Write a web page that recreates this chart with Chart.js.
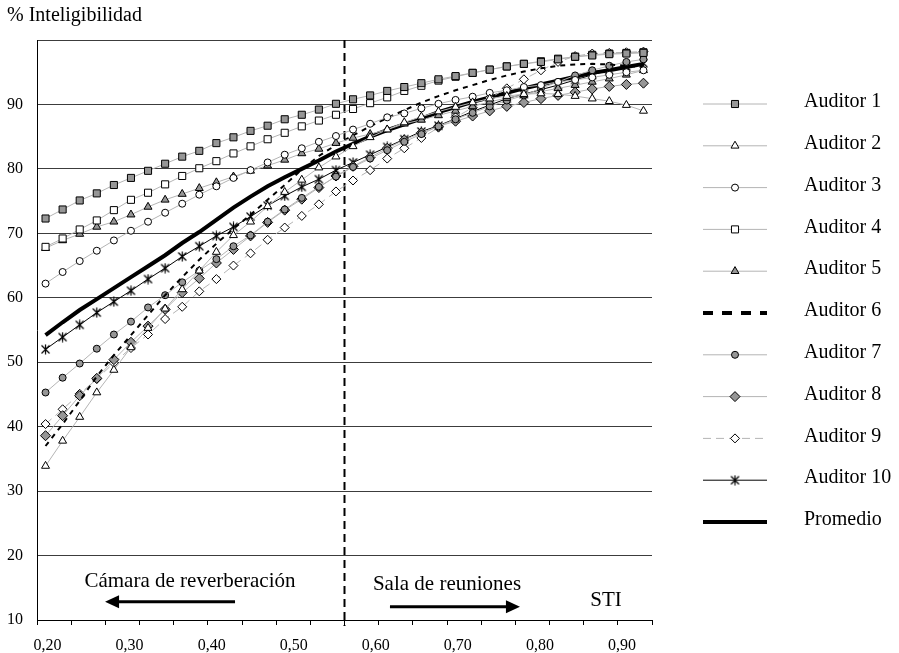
<!DOCTYPE html>
<html>
<head>
<meta charset="utf-8">
<script src="https://cdn.jsdelivr.net/npm/chart.js@4"></script>
<style>
  html, body { margin: 0; padding: 0; background: #fff; }
  #wrap { width: 899px; height: 653px; }
</style>
</head>
<body>
<div id="wrap"><canvas id="chart" width="899" height="653"></canvas></div>
<script>
// STI value of each measured point (category axis)
const sti = [0.196, 0.217, 0.238, 0.259, 0.280, 0.300, 0.321, 0.342, 0.363, 0.384,
  0.405, 0.426, 0.447, 0.468, 0.489, 0.510, 0.530, 0.551, 0.572, 0.593,
  0.614, 0.635, 0.656, 0.677, 0.698, 0.719, 0.740, 0.760, 0.781, 0.802,
  0.823, 0.844, 0.865, 0.886, 0.907, 0.928];
// tick labels of the STI axis
const xTickVals = [0.20, 0.30, 0.40, 0.50, 0.60, 0.70, 0.80, 0.90];
// % intelligibility per listener
const aud1 = [72.3, 73.7, 75.1, 76.2, 77.5, 78.6, 79.7, 80.8, 81.9, 82.8, 84.0, 84.9, 85.9, 86.7, 87.7, 88.4, 89.2, 90.1, 90.8, 91.4, 92.1, 92.7, 93.3, 93.9, 94.4, 94.9, 95.4, 95.9, 96.3, 96.6, 97.0, 97.4, 97.6, 97.8, 97.9, 98.0];
const aud2 = [33.9, 37.8, 41.5, 45.3, 48.8, 52.3, 55.3, 58.3, 61.3, 64.2, 67.1, 69.7, 71.8, 74.2, 76.4, 78.3, 80.2, 81.9, 83.5, 84.9, 86.1, 87.2, 88.1, 88.9, 89.6, 90.3, 90.9, 91.3, 91.6, 91.7, 91.6, 91.3, 90.9, 90.5, 89.9, 89.0];
const aud3 = [62.2, 64.0, 65.7, 67.3, 68.9, 70.4, 71.8, 73.2, 74.6, 76.0, 77.3, 78.6, 79.8, 81.0, 82.2, 83.2, 84.2, 85.1, 86.1, 87.0, 88.0, 88.6, 89.4, 90.1, 90.7, 91.2, 91.8, 92.2, 92.7, 93.0, 93.5, 93.8, 94.2, 94.6, 95.0, 95.3];
const aud4 = [67.9, 69.2, 70.6, 72.0, 73.6, 75.2, 76.3, 77.6, 78.9, 80.1, 81.2, 82.4, 83.5, 84.6, 85.6, 86.6, 87.5, 88.4, 89.3, 90.2, 91.1, 92.1, 92.9, 93.7, 94.3, 94.9, 95.4, 95.9, 96.3, 96.7, 97.1, 97.4, 97.7, 97.9, 98.0, 98.1];
const aud5 = [67.7, 68.9, 69.9, 71.0, 71.8, 72.9, 74.1, 75.2, 76.1, 77.0, 77.9, 78.8, 79.7, 80.5, 81.4, 82.4, 83.1, 84.0, 84.8, 85.4, 86.1, 87.0, 87.6, 88.3, 89.0, 89.7, 90.4, 91.0, 91.5, 92.0, 92.5, 93.0, 93.5, 94.0, 94.6, 95.3];
const aud6 = [37.0, 40.4, 44.0, 47.8, 51.1, 54.2, 57.3, 60.4, 63.2, 65.9, 68.4, 70.7, 72.9, 75.2, 77.5, 79.9, 82.0, 83.7, 85.2, 86.6, 87.9, 89.1, 90.3, 91.3, 92.2, 93.0, 93.8, 94.5, 95.1, 95.6, 96.0, 96.2, 96.3, 96.2, 96.0, 95.8];
const aud7 = [45.3, 47.6, 49.8, 52.1, 54.3, 56.3, 58.5, 60.4, 62.4, 64.2, 66.0, 68.0, 69.7, 71.8, 73.7, 75.5, 77.2, 78.8, 80.3, 81.6, 82.9, 84.2, 85.4, 86.6, 87.7, 88.7, 89.7, 90.6, 91.4, 92.5, 93.5, 94.5, 95.3, 96.0, 96.6, 97.0];
const aud8 = [38.6, 41.7, 44.8, 47.5, 50.4, 53.1, 55.6, 58.2, 60.8, 63.0, 65.4, 67.5, 69.6, 71.7, 73.6, 75.3, 77.1, 78.9, 80.4, 81.8, 83.2, 84.5, 85.6, 86.6, 87.4, 88.2, 89.0, 89.7, 90.3, 90.9, 91.4, 91.9, 92.4, 92.8, 93.1, 93.3];
const aud9 = [40.4, 42.7, 45.1, 47.4, 49.9, 52.2, 54.3, 56.7, 58.6, 61.0, 62.9, 65.0, 66.9, 69.0, 70.9, 72.7, 74.5, 76.5, 78.2, 79.8, 81.6, 83.2, 84.8, 86.4, 88.0, 89.5, 91.0, 92.5, 93.9, 95.3, 96.6, 97.5, 97.9, 98.0, 98.1, 98.2];
const aud10 = [52.0, 53.9, 55.8, 57.7, 59.4, 61.1, 62.9, 64.6, 66.4, 68.0, 69.6, 71.0, 72.6, 74.3, 75.8, 77.2, 78.4, 79.8, 81.0, 82.2, 83.4, 84.6, 85.8, 86.7, 87.8, 88.9, 89.9, 90.9, 91.6, 92.3, 93.0, 93.8, 94.6, 95.3, 95.9, 96.4];
const promedio = [54.2, 56.2, 58.1, 59.8, 61.5, 63.2, 64.9, 66.6, 68.5, 70.2, 72.1, 74.0, 75.7, 77.3, 78.7, 80.0, 81.3, 82.7, 83.9, 85.0, 86.0, 86.9, 87.8, 88.8, 89.6, 90.4, 91.1, 91.8, 92.5, 93.1, 93.7, 94.3, 94.9, 95.3, 95.8, 96.3];

const serif = '"Liberation Serif", "Times New Roman", serif';
Chart.defaults.font.family = serif;
Chart.defaults.color = '#000';

const lineGray = '#b4b4b4';
const markGray = '#969696';

// Excel style asterisk marker (x plus vertical bar)
const asterisk = document.createElement('canvas');
asterisk.width = 11;
asterisk.height = 11;
(function () {
  const c = asterisk.getContext('2d');
  c.strokeStyle = '#000';
  c.lineWidth = 1.2;
  c.beginPath();
  c.moveTo(1.5, 1.5); c.lineTo(9.5, 9.5);
  c.moveTo(9.5, 1.5); c.lineTo(1.5, 9.5);
  c.moveTo(5.5, 0.5); c.lineTo(5.5, 10.5);
  c.stroke();
})();

// helper for the marker series
function markerSet(label, data, style, fill, radius) {
  return {
    label: label, data: data,
    borderColor: lineGray, borderWidth: 1,
    pointStyle: style, pointRadius: radius,
    pointBackgroundColor: fill, pointBorderColor: '#000', pointBorderWidth: 1
  };
}

const datasets = [
  markerSet('Auditor 1', aud1, 'rect', markGray, 5),
  markerSet('Auditor 2', aud2, 'triangle', '#fff', 4.6),
  markerSet('Auditor 3', aud3, 'circle', '#fff', 3.5),
  markerSet('Auditor 4', aud4, 'rect', '#fff', 5),
  markerSet('Auditor 5', aud5, 'triangle', markGray, 4.6),
  { label: 'Auditor 6', data: aud6, borderColor: '#000', borderWidth: 2, borderDash: [5, 5], pointRadius: 0,
    legendWidth: 4, legendDash: [10, 9] },
  markerSet('Auditor 7', aud7, 'circle', markGray, 3.5),
  markerSet('Auditor 8', aud8, 'rectRot', markGray, 5),
  Object.assign(markerSet('Auditor 9', aud9, 'rectRot', '#fff', 4.5), { borderDash: [8, 5] }),
  Object.assign(markerSet('Auditor 10', aud10, asterisk, '#000', 5), { borderColor: '#000' }),
  { label: 'Promedio', data: promedio, borderColor: '#000', borderWidth: 4, pointRadius: 0 }
];

// dashed divider, room labels, arrows, title and the side legend
const extras = {
  id: 'extras',
  beforeDatasetsDraw(chart) {
    const ctx = chart.ctx, a = chart.chartArea;
    const xd = chart.scales.x.getPixelForValue(17.5);
    ctx.save();
    ctx.strokeStyle = '#000';
    ctx.lineWidth = 2;
    ctx.setLineDash([8, 5]);
    ctx.beginPath();
    ctx.moveTo(xd, a.top);
    ctx.lineTo(xd, a.bottom + 6);
    ctx.stroke();
    ctx.restore();
  },
  afterDraw(chart) {
    const ctx = chart.ctx;
    const xs = chart.scales.xs, y = chart.scales.y;
    ctx.save();
    ctx.fillStyle = '#000';
    ctx.strokeStyle = '#000';

    ctx.font = '20px ' + serif;
    ctx.textAlign = 'left';
    ctx.textBaseline = 'alphabetic';
    ctx.fillText('% Inteligibilidad', 7, 21);

    ctx.font = '21px ' + serif;
    ctx.textAlign = 'center';
    ctx.fillText('Cámara de reverberación', xs.getPixelForValue(0.3736), y.getPixelForValue(15.1));
    ctx.fillText('Sala de reuniones', xs.getPixelForValue(0.6868), y.getPixelForValue(14.66));
    ctx.fillText('STI', xs.getPixelForValue(0.8806), y.getPixelForValue(12.17));

    arrow(ctx, xs.getPixelForValue(0.4285), xs.getPixelForValue(0.2701), y.getPixelForValue(12.84));
    arrow(ctx, xs.getPixelForValue(0.6173), xs.getPixelForValue(0.7757), y.getPixelForValue(12.06));

    // legend
    chart.data.datasets.forEach((ds, k) => {
      const ly = 104 + k * 41.8;
      ctx.save();
      ctx.strokeStyle = ds.borderColor;
      ctx.lineWidth = ds.legendWidth || ds.borderWidth;
      ctx.setLineDash(ds.legendDash || ds.borderDash || []);
      ctx.beginPath();
      ctx.moveTo(703, ly);
      ctx.lineTo(767, ly);
      ctx.stroke();
      ctx.setLineDash([]);
      if (ds.pointRadius > 0) {
        ctx.fillStyle = ds.pointBackgroundColor;
        ctx.strokeStyle = ds.pointBorderColor;
        ctx.lineWidth = 1;
        Chart.helpers.drawPoint(ctx, { pointStyle: ds.pointStyle, radius: ds.pointRadius, borderWidth: 1, rotation: 0 }, 735, ly);
      }
      ctx.fillStyle = '#000';
      ctx.font = '20px ' + serif;
      ctx.textAlign = 'left';
      ctx.textBaseline = 'middle';
      ctx.fillText(ds.label, 804, ly - 2);
      ctx.restore();
    });
    ctx.restore();
  }
};

function arrow(ctx, x1, x2, y) {
  const dir = Math.sign(x2 - x1);
  ctx.lineWidth = 3;
  ctx.beginPath();
  ctx.moveTo(x1, y);
  ctx.lineTo(x2 - dir * 10, y);
  ctx.stroke();
  ctx.beginPath();
  ctx.moveTo(x2, y);
  ctx.lineTo(x2 - dir * 14, y - 6.5);
  ctx.lineTo(x2 - dir * 14, y + 6.5);
  ctx.closePath();
  ctx.fill();
}

new Chart(document.getElementById('chart'), {
  type: 'line',
  data: { labels: sti, datasets: datasets },
  plugins: [extras],
  options: {
    responsive: false,
    animation: false,
    events: [],
    layout: { padding: { top: 40, right: 247, bottom: 0, left: 0 } },
    elements: { line: { tension: 0 } },
    plugins: { legend: { display: false }, tooltip: { enabled: false } },
    scales: {
      x: {
        type: 'category', position: 'bottom', weight: 0, offset: true,
        grid: {
          offset: true, drawOnChartArea: false, drawTicks: true, tickLength: 5,
          color: (c) => (c.index === undefined || c.index % 2 === 0) ? '#000' : 'rgba(0,0,0,0)'
        },
        border: { display: true, color: '#000', width: 1 },
        ticks: { display: false },
        afterFit: (s) => { s.height = 6; }
      },
      xs: {
        type: 'linear', axis: 'x', position: 'bottom', weight: 1,
        min: 0.1872, max: 0.9366,
        grid: { display: false, drawTicks: false },
        border: { display: false },
        afterBuildTicks: (s) => { s.ticks = xTickVals.map(v => ({ value: v })); },
        ticks: {
          padding: 10, font: { size: 16 }, color: '#000', autoSkip: false, maxRotation: 0,
          callback: (v) => v.toFixed(2).replace('.', ',')
        },
        afterFit: (s) => { s.height = 27; }
      },
      y: {
        min: 10, max: 100,
        grid: { color: '#3c3c3c', drawTicks: false },
        border: { color: '#000' },
        ticks: {
          stepSize: 10, padding: 14, font: { size: 16 }, color: '#000',
          callback: (v) => v === 100 ? '' : v
        },
        afterFit: (s) => { s.width = 37; }
      }
    }
  }
});
</script>
</body>
</html>
